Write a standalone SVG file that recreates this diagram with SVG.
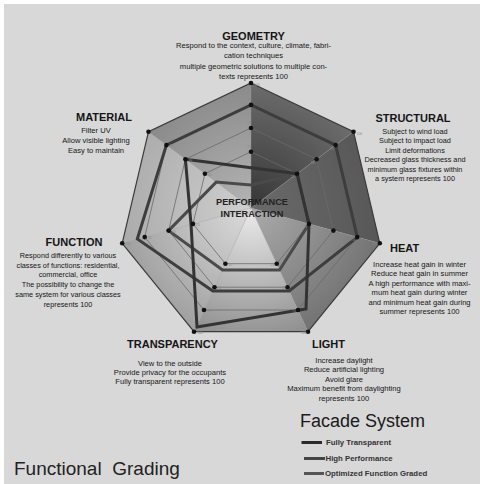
<svg xmlns="http://www.w3.org/2000/svg" width="480" height="484" viewBox="0 0 480 484">
<style>
.t{font-family:"Liberation Sans",Arial,sans-serif;font-weight:bold;font-size:11px;fill:#151515;text-anchor:middle}
.b{font-family:"Liberation Sans",Arial,sans-serif;font-size:7.6px;fill:#161616;text-anchor:middle}
.b2{font-size:7.3px}
.ring{fill:none;stroke:#6a6a6a;stroke-width:0.8}
.axis{stroke:#9a9a9a;stroke-width:0.5;opacity:0.7}
.dot{fill:#111}
.lab{font-family:"Liberation Sans",Arial,sans-serif;font-size:3.4px;fill:#8a8a8a}
.s{fill:none;stroke-width:3;stroke-linejoin:miter}
.lg{font-family:"Liberation Sans",Arial,sans-serif;font-weight:bold;font-size:7.8px;fill:#333}
</style>
<defs>
<radialGradient id="g0" gradientUnits="userSpaceOnUse" cx="251" cy="208" r="135"><stop offset="0" stop-color="#363636"/><stop offset="1" stop-color="#707070"/></radialGradient>
<radialGradient id="g1" gradientUnits="userSpaceOnUse" cx="251" cy="208" r="135"><stop offset="0" stop-color="#6a6a6a"/><stop offset="1" stop-color="#575757"/></radialGradient>
<radialGradient id="g2" gradientUnits="userSpaceOnUse" cx="251" cy="208" r="135"><stop offset="0" stop-color="#ababab"/><stop offset="1" stop-color="#727272"/></radialGradient>
<radialGradient id="g3" gradientUnits="userSpaceOnUse" cx="251" cy="208" r="135"><stop offset="0" stop-color="#ececec"/><stop offset="1" stop-color="#8e8e8e"/></radialGradient>
<radialGradient id="g4" gradientUnits="userSpaceOnUse" cx="251" cy="208" r="135"><stop offset="0" stop-color="#dcdcdc"/><stop offset="1" stop-color="#9e9e9e"/></radialGradient>
<radialGradient id="g5" gradientUnits="userSpaceOnUse" cx="251" cy="208" r="135"><stop offset="0" stop-color="#d0d0d0"/><stop offset="1" stop-color="#aaaaaa"/></radialGradient>
<radialGradient id="g6" gradientUnits="userSpaceOnUse" cx="251" cy="208" r="135"><stop offset="0" stop-color="#b4b4b4"/><stop offset="1" stop-color="#878787"/></radialGradient>
</defs>
<rect x="0" y="0" width="480" height="484" fill="#fff"/>
<rect x="4" y="4" width="476" height="480" fill="#d8d8d8"/>

<g id="chart">
<polygon points="251,208 251,83 353.5,131.7" fill="url(#g0)"/>
<polygon points="251,208 353.5,131.7 379.8,243.3" fill="url(#g1)"/>
<polygon points="251,208 379.8,243.3 308,331.7" fill="url(#g2)"/>
<polygon points="251,208 308,331.7 194,331.7" fill="url(#g3)"/>
<polygon points="251,208 194,331.7 122.2,243.3" fill="url(#g4)"/>
<polygon points="251,208 122.2,243.3 148.5,131.7" fill="url(#g5)"/>
<polygon points="251,208 148.5,131.7 251,83" fill="url(#g6)"/>
<g>
<line class="axis" x1="251" y1="208" x2="251" y2="83"/>
<line class="axis" x1="251" y1="208" x2="353.5" y2="131.7"/>
<line class="axis" x1="251" y1="208" x2="379.8" y2="243.3"/>
<line class="axis" x1="251" y1="208" x2="308" y2="331.7"/>
<line class="axis" x1="251" y1="208" x2="194" y2="331.7"/>
<line class="axis" x1="251" y1="208" x2="122.2" y2="243.3"/>
<line class="axis" x1="251" y1="208" x2="148.5" y2="131.7"/>
</g>
<polygon class="ring" points="251,104.9 335.6,145.1 357.3,237.1 298,310 204,310 144.7,237.1 166.4,145.1"/>
<polygon class="ring" points="251,128 316.6,159.2 333.4,230.6 287.5,287.2 214.5,287.2 168.6,230.6 185.4,159.2"/>
<polygon class="ring" points="251,151.75 297.1,173.7 309,223.9 276.7,263.7 225.4,263.7 193,223.9 204.9,173.7"/>
<polygon points="251,83 353.5,131.7 379.8,243.3 308,331.7 194,331.7 122.2,243.3 148.5,131.7" fill="none" stroke="#3a3a3a" stroke-width="1.2"/>
</g>

<g id="series">
<polygon class="s" stroke="#3d3d3d" points="166.4,145.1 251,104.9 335.6,145.1 357.3,237.1 289.2,290.9 212.8,290.9 137.3,239"/>
<polygon class="s" stroke="#4a4a4a" points="168.6,230.6 216.2,182.1 251,185 297.1,173.7 309,223.9 279.5,270 222.5,270"/>
<polygon class="s" stroke="#333" points="185.4,159.2 251,167.7 297.1,173.7 309,223.9 306,309 197,327 191,224"/>
</g>

<g id="dots">
<circle class="dot" cx="251" cy="83" r="2.3"/><circle class="dot" cx="353.5" cy="131.7" r="2.3"/><circle class="dot" cx="379.8" cy="243.3" r="2.3"/><circle class="dot" cx="308" cy="331.7" r="2.3"/><circle class="dot" cx="194" cy="331.7" r="2.3"/><circle class="dot" cx="122.2" cy="243.3" r="2.3"/><circle class="dot" cx="148.5" cy="131.7" r="2.3"/>
<circle class="dot" cx="251" cy="104.9" r="2.3"/><circle class="dot" cx="335.6" cy="145.1" r="2.3"/><circle class="dot" cx="357.3" cy="237.1" r="2.3"/><circle class="dot" cx="298" cy="310" r="2.3"/><circle class="dot" cx="204" cy="310" r="2.3"/><circle class="dot" cx="144.7" cy="237.1" r="2.3"/><circle class="dot" cx="166.4" cy="145.1" r="2.3"/>
<circle class="dot" cx="251" cy="128" r="2.3"/><circle class="dot" cx="316.6" cy="159.2" r="2.3"/><circle class="dot" cx="333.4" cy="230.6" r="2.3"/><circle class="dot" cx="287.5" cy="287.2" r="2.3"/><circle class="dot" cx="214.5" cy="287.2" r="2.3"/><circle class="dot" cx="168.6" cy="230.6" r="2.3"/><circle class="dot" cx="185.4" cy="159.2" r="2.3"/>
<circle class="dot" cx="251" cy="151.75" r="2.3"/><circle class="dot" cx="297.1" cy="173.7" r="2.3"/><circle class="dot" cx="309" cy="223.9" r="2.3"/><circle class="dot" cx="276.7" cy="263.7" r="2.3"/><circle class="dot" cx="225.4" cy="263.7" r="2.3"/><circle class="dot" cx="193" cy="223.9" r="2.3"/><circle class="dot" cx="204.9" cy="173.7" r="2.3"/>
<text class="lab" x="254" y="86">100</text><text class="lab" x="356.5" y="134.9">100</text><text class="lab" x="372" y="245">100</text><text class="lab" x="301" y="334">100</text><text class="lab" x="197" y="334">100</text><text class="lab" x="125.2" y="245">100</text><text class="lab" x="151.5" y="133">100</text>
<text class="lab" x="247" y="101">75</text><text class="lab" x="330" y="150">75</text><text class="lab" x="351" y="241">75</text><text class="lab" x="292" y="312">75</text><text class="lab" x="207" y="312">75</text><text class="lab" x="147.7" y="239">75</text><text class="lab" x="169.4" y="147">75</text>
<text class="lab" x="247" y="124">50</text><text class="lab" x="311" y="164">50</text><text class="lab" x="327" y="234">50</text><text class="lab" x="281.5" y="289">50</text><text class="lab" x="217.5" y="289">50</text><text class="lab" x="171.6" y="232.5">50</text><text class="lab" x="188.4" y="161">50</text>
<text class="lab" x="247" y="148">25</text><text class="lab" x="291" y="178">25</text><text class="lab" x="303" y="228">25</text><text class="lab" x="270.5" y="266">25</text><text class="lab" x="228.4" y="266">25</text><text class="lab" x="196" y="226">25</text><text class="lab" x="207.9" y="175.5">25</text>
</g>

<g id="center-label">
<text class="t" style="font-size:9.2px;fill:#222" x="252" y="205">PERFORMANCE</text>
<text class="t" style="font-size:9.2px;fill:#222" x="252" y="216.7">INTERACTION</text>
</g>

<g id="geometry">
<text class="t" x="253.5" y="39.5">GEOMETRY</text>
<text class="b" x="253.5" y="48">Respond to the context, culture, climate, fabri-</text>
<text class="b" x="253.5" y="58.3">cation techniques</text>
<text class="b" x="253.5" y="68.6">multiple geometric solutions to multiple con-</text>
<text class="b" x="253.5" y="78.6">texts represents 100</text>
</g>

<g id="structural">
<text class="t" x="413" y="121.5">STRUCTURAL</text>
<text class="b b2" x="415" y="133.5">Subject to wind load</text>
<text class="b b2" x="415" y="143">Subject to impact load</text>
<text class="b b2" x="415" y="152.5">Limit deformations</text>
<text class="b b2" x="415" y="162">Decreased glass thickness and</text>
<text class="b b2" x="415" y="171.5">minimum glass fixtures within</text>
<text class="b b2" x="415" y="181">a system represents 100</text>
</g>

<g id="heat">
<text class="t" style="text-anchor:start" x="390" y="251.5">HEAT</text>
<text class="b" x="419.5" y="266.5">Increase heat gain in winter</text>
<text class="b" x="419.5" y="276">Reduce heat gain in summer</text>
<text class="b" x="419.5" y="285.5">A high performance with maxi-</text>
<text class="b" x="419.5" y="295">mum heat gain during winter</text>
<text class="b" x="419.5" y="304.5">and minimum heat gain during</text>
<text class="b" x="419.5" y="314">summer represents 100</text>
</g>

<g id="light">
<text class="t" x="328.5" y="348.3">LIGHT</text>
<text class="b" x="344" y="362.5">Increase daylight</text>
<text class="b" x="344" y="372">Reduce artificial lighting</text>
<text class="b" x="344" y="381.5">Avoid glare</text>
<text class="b" x="344" y="391">Maximum benefit from daylighting</text>
<text class="b" x="344" y="400.5">represents 100</text>
</g>

<g id="transparency">
<text class="t" x="172.5" y="348">TRANSPARENCY</text>
<text class="b" x="170" y="365.5">View to the outside</text>
<text class="b" x="170" y="374.8">Provide privacy for the occupants</text>
<text class="b" x="170" y="384.2">Fully transparent represents 100</text>
</g>

<g id="function">
<text class="t" x="74" y="245.5">FUNCTION</text>
<text class="b b2" x="68" y="257.5">Respond differently to  various</text>
<text class="b b2" x="68" y="267.5">classes of functions: residential,</text>
<text class="b b2" x="68" y="277">commercial, office</text>
<text class="b b2" x="68" y="287">The possibility to change the</text>
<text class="b b2" x="68" y="297">same system for various classes</text>
<text class="b b2" x="68" y="307">represents 100</text>
</g>

<g id="material">
<text class="t" x="104" y="120.5">MATERIAL</text>
<text class="b" x="96" y="132.5">Filter UV</text>
<text class="b" x="96" y="142.5">Allow visible lighting</text>
<text class="b" x="96" y="152.5">Easy to maintain</text>
</g>

<g id="legend">
<text x="300" y="427" style="font-family:'Liberation Sans',Arial,sans-serif;font-size:18px;fill:#1a1a1a">Facade System</text>
<line x1="301.5" y1="442.5" x2="322" y2="442.5" stroke="#2a2a2a" stroke-width="3"/>
<text class="lg" x="326" y="445.3">Fully Transparent</text>
<line x1="304" y1="458.5" x2="325" y2="458.5" stroke="#444" stroke-width="3"/>
<text class="lg" x="325.5" y="461.3">High Performance</text>
<line x1="304" y1="473.5" x2="324" y2="473.5" stroke="#555" stroke-width="3"/>
<text class="lg" x="325" y="476.3">Optimized Function Graded</text>
</g>

<g id="title">
<text x="14" y="475" style="font-family:'Liberation Sans',Arial,sans-serif;font-size:19px;fill:#222;white-space:pre" xml:space="preserve">Functional  Grading</text>
</g>
</svg>
